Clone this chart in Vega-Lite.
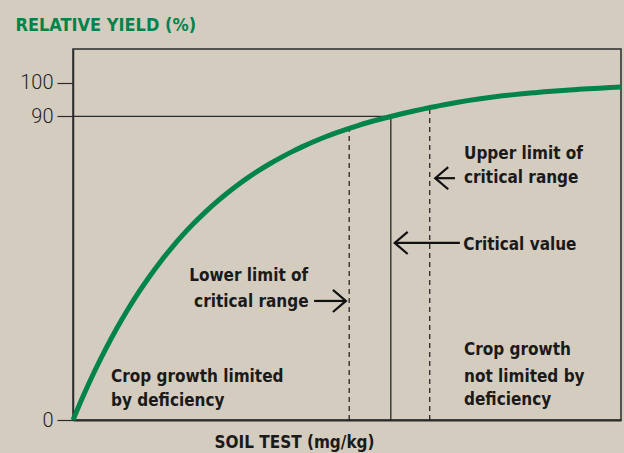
{
  "$schema": "https://vega.github.io/schema/vega-lite/v6.json",
  "autosize": "none",
  "width": 548,
  "height": 371,
  "padding": {"left": 73, "top": 49, "right": 3, "bottom": 33},
  "background": "#d5ccc0",
  "config": {
    "view": {"stroke": "#2b2b2b", "strokeWidth": 1.5},
    "font": "Roboto"
  },
  "datasets": {
    "curve": [
      {"x": 0, "y": 0}, {"x": 2, "y": 7.63}, {"x": 4, "y": 14.68}, {"x": 6, "y": 21.19}, {"x": 8, "y": 27.21},
      {"x": 10, "y": 32.76}, {"x": 12, "y": 37.9}, {"x": 14, "y": 42.63}, {"x": 16, "y": 47.02}, {"x": 18, "y": 51.06},
      {"x": 20, "y": 54.8}, {"x": 22, "y": 58.25}, {"x": 24, "y": 61.43}, {"x": 26, "y": 64.38}, {"x": 28, "y": 67.1},
      {"x": 30, "y": 69.61}, {"x": 32, "y": 71.93}, {"x": 34, "y": 74.07}, {"x": 36, "y": 76.05}, {"x": 38, "y": 77.88},
      {"x": 40, "y": 79.57}, {"x": 42, "y": 81.13}, {"x": 44, "y": 82.57}, {"x": 46, "y": 83.9}, {"x": 48, "y": 85.13},
      {"x": 50, "y": 86.26}, {"x": 52, "y": 87.31}, {"x": 54, "y": 88.28}, {"x": 56, "y": 89.17}, {"x": 58, "y": 90.0},
      {"x": 60, "y": 90.8}, {"x": 62, "y": 91.55}, {"x": 64, "y": 92.25}, {"x": 66, "y": 92.9}, {"x": 68, "y": 93.55},
      {"x": 70, "y": 94.15}, {"x": 72, "y": 94.7}, {"x": 74, "y": 95.2}, {"x": 76, "y": 95.65}, {"x": 78, "y": 96.05},
      {"x": 80, "y": 96.4}, {"x": 82, "y": 96.72}, {"x": 84, "y": 97.02}, {"x": 86, "y": 97.3}, {"x": 88, "y": 97.55},
      {"x": 90, "y": 97.78}, {"x": 92, "y": 98.0}, {"x": 94, "y": 98.2}, {"x": 96, "y": 98.38}, {"x": 98, "y": 98.55},
      {"x": 100, "y": 98.72}
    ],
    "vlines": [
      {"kind": "critical", "x": 58, "y": 0, "y2": 90},
      {"kind": "limit", "x": 50.4, "y": 0, "y2": 86.2},
      {"kind": "limit", "x": 65.1, "y": 0, "y2": 92.6}
    ],
    "hline": [{"x": 0, "x2": 58, "y": 90}],
    "arrows": [
      {"dir": "left", "x": 66.1, "x2": 69.7, "y": 71.7},
      {"dir": "left", "x": 58.7, "x2": 70.6, "y": 52.5},
      {"dir": "right", "x": 49.8, "x2": 44.0, "y": 35.3}
    ],
    "labels": [
      {"text": "Upper limit of", "x": 71.35, "y": 77.4},
      {"text": "critical range", "x": 71.35, "y": 70.3},
      {"text": "Critical value", "x": 71.2, "y": 50.4},
      {"text": "Lower limit of", "x": 21.2, "y": 41.2},
      {"text": "critical range", "x": 22.1, "y": 33.5},
      {"text": "Crop growth limited", "x": 6.93, "y": 11.3},
      {"text": "by deficiency", "x": 6.93, "y": 4.15},
      {"text": "Crop growth", "x": 71.35, "y": 19.3},
      {"text": "not limited by", "x": 71.35, "y": 11.4},
      {"text": "deficiency", "x": 71.35, "y": 4.4}
    ]
  },
  "encoding": {
    "x": {
      "field": "x", "type": "quantitative",
      "scale": {"domain": [0, 100], "nice": false, "zero": false},
      "axis": {
        "labels": false, "ticks": false, "grid": false,
        "domainColor": "#2b2b2b", "domainWidth": 2,
        "title": "SOIL TEST (mg/kg)",
        "titleFont": "DejaVu Sans Condensed, Roboto", "titleFontSize": 17, "titleFontWeight": "bold", "titleColor": "#1a1a1a",
        "titleX": 221, "titleY": 27, "titleAlign": "center", "titleBaseline": "alphabetic"
      }
    },
    "y": {
      "field": "y", "type": "quantitative",
      "scale": {"domain": [0, 110], "nice": false},
      "axis": {
        "values": [0, 90, 100], "grid": false,
        "tickSize": 16, "tickColor": "#2b2b2b", "tickWidth": 1.2,
        "domainColor": "#2b2b2b", "domainWidth": 1.5,
        "labelFont": "Roboto", "labelFontWeight": 300, "labelFontSize": 20, "labelColor": "#222222", "labelPadding": 4,
        "title": "RELATIVE YIELD (%)",
        "titleFont": "DejaVu Sans Condensed, Roboto", "titleFontSize": 18, "titleFontWeight": "bold", "titleColor": "#00844a",
        "titleAngle": 0, "titleAlign": "left", "titleBaseline": "alphabetic", "titleX": -58, "titleY": -19
      }
    }
  },
  "layer": [
    {
      "data": {"name": "hline"},
      "mark": {"type": "rule", "color": "#2b2b2b", "strokeWidth": 1.2},
      "encoding": {"x2": {"field": "x2"}}
    },
    {
      "data": {"name": "vlines"},
      "transform": [{"filter": "datum.kind == 'critical'"}],
      "mark": {"type": "rule", "color": "#1a1a1a", "strokeWidth": 1.2},
      "encoding": {"y2": {"field": "y2"}}
    },
    {
      "data": {"name": "vlines"},
      "transform": [{"filter": "datum.kind == 'limit'"}],
      "mark": {"type": "rule", "color": "#1a1a1a", "strokeWidth": 1.2, "strokeDash": [5, 4]},
      "encoding": {"y2": {"field": "y2"}}
    },
    {
      "data": {"name": "curve"},
      "mark": {"type": "line", "color": "#00844a", "strokeWidth": 5, "interpolate": "monotone"}
    },
    {
      "data": {"name": "arrows"},
      "mark": {"type": "rule", "color": "#111111", "strokeWidth": 2.2},
      "encoding": {"x2": {"field": "x2"}}
    },
    {
      "data": {"name": "arrows"},
      "transform": [{"filter": "datum.dir == 'left'"}],
      "mark": {"type": "point", "shape": "M1,-0.85L0,0L1,0.85", "size": 676, "filled": false, "stroke": "#111111", "strokeWidth": 2.2, "opacity": 1}
    },
    {
      "data": {"name": "arrows"},
      "transform": [{"filter": "datum.dir == 'right'"}],
      "mark": {"type": "point", "shape": "M-1,-0.85L0,0L-1,0.85", "size": 676, "filled": false, "stroke": "#111111", "strokeWidth": 2.2, "opacity": 1}
    },
    {
      "data": {"name": "labels"},
      "mark": {"type": "text", "align": "left", "baseline": "alphabetic", "font": "DejaVu Sans Condensed, Roboto", "fontSize": 17, "fontWeight": "bold", "color": "#1a1a1a"},
      "encoding": {"text": {"field": "text"}}
    }
  ]
}
